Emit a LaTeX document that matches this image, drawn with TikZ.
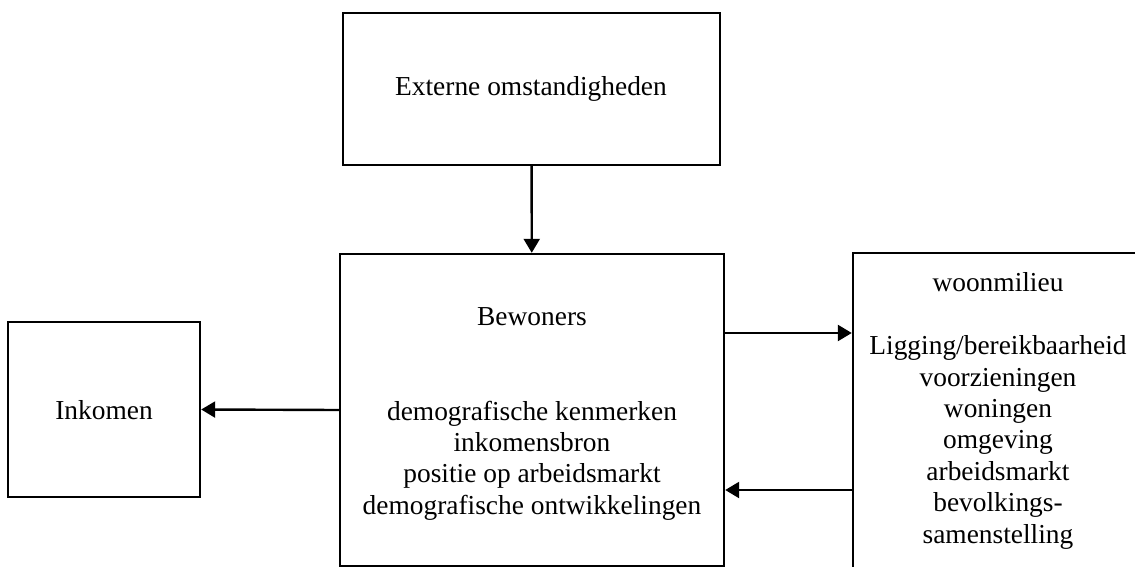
\documentclass[tikz,border=0pt]{standalone}
\usepackage{fontspec}
\setmainfont{Liberation Serif}
\usetikzlibrary{arrows.meta,positioning}

\begin{document}
\begin{tikzpicture}[x=0.5pt,y=-0.5pt,
    box/.style={draw,line width=1.2pt,inner sep=0pt},
    txt/.style={align=center,font=\fontsize{13.7}{15.7}\selectfont,text=black},
    arr/.style={line width=1.2pt,-{Triangle[width=8pt,length=7pt]}}]
                    \useasboundingbox (0,0) rectangle (1135,567);
                    \node[box,minimum width=188.5pt,minimum height=76pt] (ext) at (531.5,89) {};
                    \node[box,minimum width=192pt,minimum height=156pt] (bew) at (532,410) {};
                    \node[box,minimum width=96pt,minimum height=87.5pt] (ink) at (104,409.5) {};
                    \node[box,minimum width=146pt,minimum height=163.5pt] (woon) at (999,416.5) {};
                    \node[txt] (ext_t) at (531,89) {Externe omstandigheden};
                    \node[txt] (bew_t) at (532,414) {Bewoners\\ \\ \\demografische kenmerken\\inkomensbron\\positie op arbeidsmarkt\\demografische ontwikkelingen};
                    \node[txt] (ink_t) at (104,410) {Inkomen};
                    \node[txt] (woon_t) at (998,411) {woonmilieu\\ \\Ligging/bereikbaarheid\\voorzieningen\\woningen\\omgeving\\arbeidsmarkt\\bevolkings-\\samenstelling};
                    \draw[arr] (ext) -- (bew);
                    \draw[arr] (bew.west) -- (ink.east);
                    \draw[arr] ([yshift=38.5pt]bew.east) -- ([yshift=38.5pt]bew.east -| woon.west);
                    \draw[arr] ([yshift=-40pt]bew.east -| woon.west) -- ([yshift=-40pt]bew.east);
                \end{tikzpicture}
\end{document}
